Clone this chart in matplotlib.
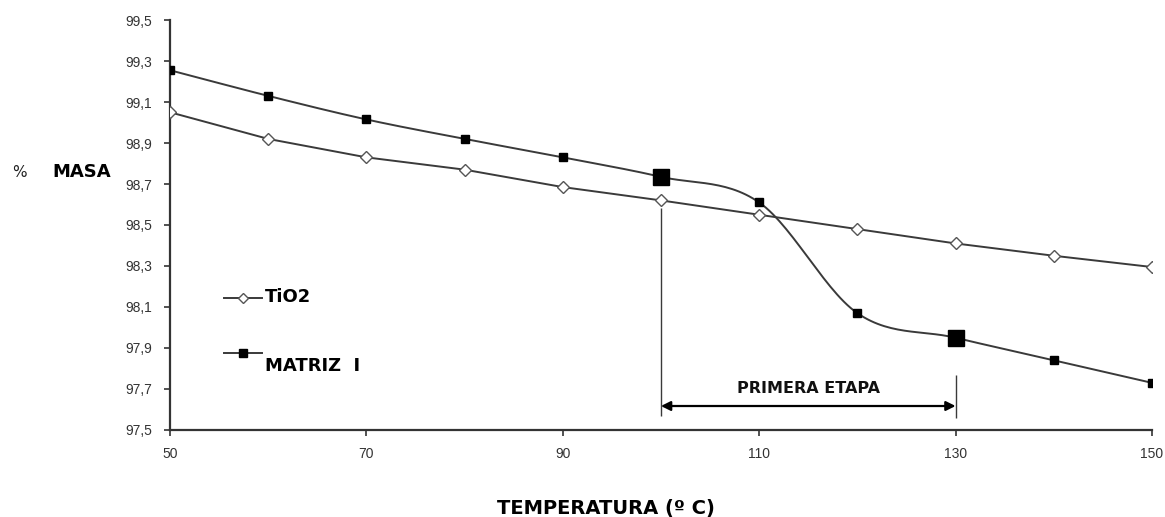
import numpy as np
import matplotlib
matplotlib.use("Agg")
import matplotlib.pyplot as plt
from matplotlib.ticker import FixedLocator, FuncFormatter
from matplotlib.lines import Line2D

# data
temperatura = [50, 60, 70, 80, 90, 100, 110, 120, 130, 140, 150]
masa_tio2 = [99.05, 98.92, 98.83, 98.77, 98.685, 98.62, 98.55, 98.48, 98.41, 98.35, 98.295]
masa_matriz = [99.255, 99.13, 99.015, 98.92, 98.83, 98.735, 98.61, 98.07, 97.95, 97.84, 97.73]
big_marks = [100, 130]          # points drawn with larger squares
etapa = (100, 130)              # "PRIMERA ETAPA" span
xticks = [50, 70, 90, 110, 130, 150]
yticks = [97.5, 97.7, 97.9, 98.1, 98.3, 98.5, 98.7, 98.9, 99.1, 99.3, 99.5]

LINE = "#3a3a3a"
TICKFONT = ["Liberation Sans Narrow", "Liberation Sans", "DejaVu Sans"]


def smooth(x, y, n=30):
    # Catmull-Rom curve through the points (like a spreadsheet "smoothed line")
    x = np.asarray(x, float)
    y = np.asarray(y, float)
    px = np.concatenate([[2 * x[0] - x[1]], x, [2 * x[-1] - x[-2]]])
    py = np.concatenate([[2 * y[0] - y[1]], y, [2 * y[-1] - y[-2]]])
    t = np.linspace(0, 1, n)[:, None]
    xs, ys = [], []
    for i in range(1, len(px) - 2):
        for arr, out in ((px, xs), (py, ys)):
            p0, p1, p2, p3 = arr[i - 1], arr[i], arr[i + 1], arr[i + 2]
            seg = 0.5 * ((2 * p1) + (-p0 + p2) * t + (2 * p0 - 5 * p1 + 4 * p2 - p3) * t ** 2
                         + (-p0 + 3 * p1 - 3 * p2 + p3) * t ** 3)
            out.append(seg.ravel())
    return np.concatenate(xs), np.concatenate(ys)


fig = plt.figure(figsize=(11.65, 5.17), dpi=100)
ax = fig.add_axes([0.1459, 0.1683, 0.8429, 0.7930])

# TiO2: thin line, open diamonds
ax.plot(temperatura, masa_tio2, color=LINE, lw=1.4, zorder=2)
ax.plot(temperatura, masa_tio2, ls="none", marker="D", ms=6, mfc="white",
        mec="#555555", mew=1.0, zorder=3)

# Matriz I: smoothed line, filled squares
sx, sy = smooth(temperatura, masa_matriz)
ax.plot(sx, sy, color=LINE, lw=1.4, zorder=2)
small = [i for i, t in enumerate(temperatura) if t not in big_marks]
big = [i for i, t in enumerate(temperatura) if t in big_marks]
ax.plot([temperatura[i] for i in small], [masa_matriz[i] for i in small], ls="none",
        marker="s", ms=6, color="black", zorder=3)
ax.plot([temperatura[i] for i in big], [masa_matriz[i] for i in big], ls="none",
        marker="s", ms=11, color="black", zorder=3)

# first stage annotation
i0 = temperatura.index(etapa[0])
ax.vlines(etapa[0], 97.57, masa_tio2[i0] - 0.035, color=LINE, lw=1.0)
ax.vlines(etapa[1], 97.56, 97.77, color=LINE, lw=1.0)
ax.annotate("", xy=(etapa[0], 97.617), xytext=(etapa[1], 97.617),
            arrowprops=dict(arrowstyle="<|-|>", color="black", lw=1.6,
                            mutation_scale=14, shrinkA=0, shrinkB=0))
ax.text((etapa[0] + etapa[1]) / 2, 97.70, "PRIMERA ETAPA", ha="center", va="center",
        fontsize=11.5, fontweight="bold", color="#111111")

ax.set_xlim(50, 150)
ax.set_ylim(97.5, 99.5)
ax.xaxis.set_major_locator(FixedLocator(xticks))
ax.yaxis.set_major_locator(FixedLocator(yticks))
ax.yaxis.set_major_formatter(FuncFormatter(lambda v, p: f"{v:.1f}".replace(".", ",")))
ax.xaxis.set_major_formatter(FuncFormatter(lambda v, p: f"{v:.0f}"))

for side in ("top", "right"):
    ax.spines[side].set_visible(False)
for side in ("left", "bottom"):
    ax.spines[side].set_color("#333333")
    ax.spines[side].set_linewidth(1.6)
ax.tick_params(axis="both", direction="out", length=4, width=1.2, color="#333333",
               labelsize=10, labelcolor="#333333")
ax.tick_params(axis="y", pad=9)
ax.tick_params(axis="x", pad=8)
for lab in ax.get_xticklabels() + ax.get_yticklabels():
    lab.set_family(TICKFONT)

# axis titles
fig.text(0.0103, 0.667, "%", fontsize=11, va="center", ha="left", color="#222222")
fig.text(0.045, 0.667, "MASA", fontsize=13, fontweight="bold", va="center", ha="left")
fig.text(0.52, 0.017, "TEMPERATURA (º C)", fontsize=14, fontweight="bold",
         va="center", ha="center")

# hand-placed legend
fig.add_artist(Line2D([0.1923, 0.2249], [0.4236, 0.4236], color=LINE, lw=1.4,
                      transform=fig.transFigure))
fig.add_artist(Line2D([0.2086], [0.4236], ls="none", marker="D", ms=5, mfc="white",
                      mec="#555555", transform=fig.transFigure))
fig.text(0.2275, 0.4255, "TiO2", fontsize=13, fontweight="bold", va="center", ha="left")
fig.add_artist(Line2D([0.1923, 0.2249], [0.3172, 0.3172], color=LINE, lw=1.4,
                      transform=fig.transFigure))
fig.add_artist(Line2D([0.2086], [0.3172], ls="none", marker="s", ms=6, color="black",
                      transform=fig.transFigure))
fig.text(0.2275, 0.292, "MATRIZ  I", fontsize=13, fontweight="bold", va="center", ha="left")

fig.savefig("out.png", dpi=100)
